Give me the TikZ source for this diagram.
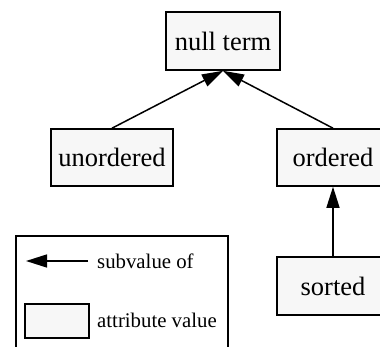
\documentclass[tikz,border=0pt]{standalone}
\usepackage{fontspec}
\setmainfont{Liberation Serif}
\usetikzlibrary{arrows.meta}
\begin{document}
\begin{tikzpicture}[x=1pt,y=-1pt,
  valbox/.style={draw=black,line width=1.6pt,fill=black!3,inner sep=0pt,
    font=\fontsize{26.5}{30}\selectfont},
  subof/.style={line width=1.5pt,-{Triangle[length=21pt,width=13pt]}},
  legtext/.style={anchor=west,inner sep=0pt,font=\fontsize{20.8}{24}\selectfont}]
  \useasboundingbox (0,0) rectangle (380,347);
  \clip (0,0) rectangle (380,347);

  % attribute values
  \node[valbox,minimum width=114pt,minimum height=58pt] (null) at (223,41) {null term};
  \node[valbox,minimum width=122pt,minimum height=57pt] (unord) at (112,157.5) {unordered};
  \node[valbox,minimum width=112pt,minimum height=57pt] (ord) at (333,157.5) {ordered};
  \node[valbox,minimum width=112pt,minimum height=58pt] (sorted) at (333,286) {sorted};

  % subvalue relations
  \draw[subof] (unord.north) -- (null.south);
  \draw[subof] (ord.north) -- (null.south);
  \draw[subof] (sorted.north) -- (ord.south);

  % legend
  \node[draw=black,line width=1.6pt,minimum width=212pt,minimum height=130pt,inner sep=0pt] (legend) at (122,301) {};
  \coordinate (la) at (88,261);
  \coordinate (lb) at (26,261);
  \draw[subof] (la) -- (lb);
  \node[legtext] (lsub) at (97,261) {subvalue of};
  \node[draw=black,line width=1.6pt,fill=black!3,minimum width=64pt,minimum height=34pt,inner sep=0pt] (lbox) at (57,321) {};
  \node[legtext] (lattr) at (97,320) {attribute value};
\end{tikzpicture}
\end{document}
